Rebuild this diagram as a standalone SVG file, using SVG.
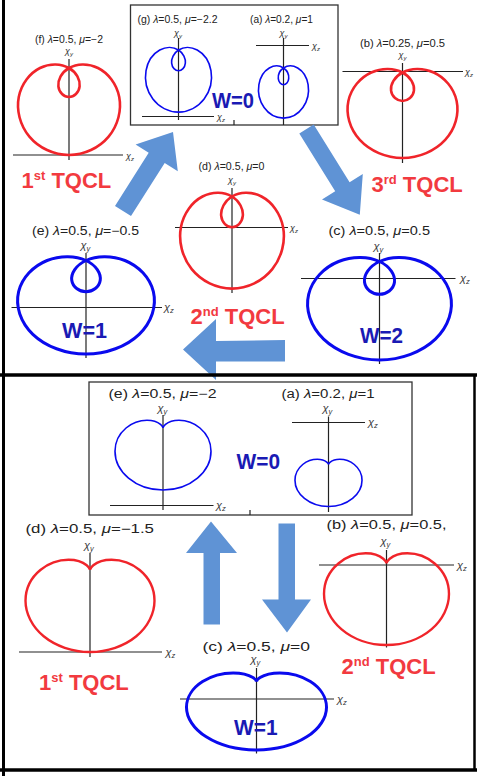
<svg xmlns="http://www.w3.org/2000/svg" width="477" height="776" viewBox="0 0 477 776">
<style>
text{font-family:"Liberation Sans",Arial,sans-serif;fill:#222}
.lab{font-size:10px}
.labm{font-size:12px}
.ax{stroke:#222;stroke-width:1.2;fill:none}
.r{fill:none;stroke:#f0242a;stroke-width:2.6}
.rb{fill:none;stroke:#f0242a;stroke-width:2.4}
.b{fill:none;stroke:#0a0aee;stroke-width:1.6}
.bt{fill:none;stroke:#0a0aee;stroke-width:3}
.chi{font-size:9px;fill:#333;font-style:italic}
.chim{font-size:11px;fill:#333;font-style:italic}
.big{font-size:22px;font-weight:bold;fill:#f23a3f}
.w{font-size:22px;font-weight:bold;fill:#1a1ab4}
.arr{fill:#5f93d5}
.box{fill:#fff;stroke:#333;stroke-width:1.3}
.g{font-style:italic}
</style>
<defs>
<path id="lim" vector-effect="non-scaling-stroke" d="M0,3 C0.5236,3 1.0403,2.7556 1.366,2.366 C1.6917,1.9764 1.8193,1.4534 1.732,1 C1.6447,0.5466 1.3491,0.1745 1,0 C0.6509,-0.1745 0.2618,-0.1511 0,0 C-0.2618,0.1511 -0.3894,0.419 -0.366,0.634 C-0.3426,0.849 -0.1745,1 0,1 C0.1745,1 0.3426,0.849 0.366,0.634 C0.3894,0.419 0.2618,0.1511 0,0 C-0.2618,-0.1511 -0.6509,-0.1745 -1,0 C-1.3491,0.1745 -1.6447,0.5466 -1.732,1 C-1.8193,1.4534 -1.6917,1.9764 -1.366,2.366 C-1.0403,2.7556 -0.5236,3 0,3 Z"/>
<path id="card" vector-effect="non-scaling-stroke" d="M0,2 C0.3491,2 0.6946,1.8544 0.933,1.616 C1.1714,1.3776 1.299,1.0523 1.299,0.75 C1.299,0.4477 1.1745,0.1745 1,0 C0.8255,-0.1745 0.6075,-0.25 0.433,-0.25 C0.2585,-0.25 0.1309,-0.1799 0.067,-0.116 C0.0031,-0.0521 0,0 0,0 C0,0 -0.0031,-0.0521 -0.067,-0.116 C-0.1309,-0.1799 -0.2585,-0.25 -0.433,-0.25 C-0.6075,-0.25 -0.8255,-0.1745 -1,0 C-1.1745,0.1745 -1.299,0.4477 -1.299,0.75 C-1.299,1.0523 -1.1714,1.3776 -0.933,1.616 C-0.6946,1.8544 -0.3491,2 0,2 Z"/>
</defs>

<g id="frame">
<line x1="3.5" y1="0" x2="3.5" y2="776" stroke="#000" stroke-width="3"/>
<line x1="0" y1="770" x2="477" y2="770" stroke="#000" stroke-width="3.5"/>
<line x1="474.5" y1="375" x2="474.5" y2="770" stroke="#000" stroke-width="2.5"/>
</g>

<!-- TOP PANEL -->
<g id="box-top">
<rect class="box" x="130.5" y="5" width="207.5" height="120"/>
<line class="ax" x1="234" y1="120" x2="234" y2="125"/>
</g>

<g id="g-top">
<text class="lab" x="137.5" y="22.5" textLength="80" lengthAdjust="spacingAndGlyphs">(g) <tspan class="g">λ</tspan>=0.5, <tspan class="g">μ</tspan>=−2.2</text>
<text class="chi" x="174" y="36">χ<tspan font-size="6" dy="2">y</tspan></text>
<line class="ax" x1="178.5" y1="38" x2="178.5" y2="120"/>
<line class="ax" x1="142" y1="116.5" x2="214" y2="116.5"/>
<text class="chi" x="217" y="120">χ<tspan font-size="6" dy="2">z</tspan></text>
<use href="#lim" class="b" transform="translate(178.5,50) scale(18.75,20.7)"/>
</g>

<g id="a-top">
<text class="lab" x="250" y="22.5" textLength="63" lengthAdjust="spacingAndGlyphs">(a) <tspan class="g">λ</tspan>=0.2, <tspan class="g">μ</tspan>=1</text>
<text class="chi" x="279.5" y="36">χ<tspan font-size="6" dy="2">y</tspan></text>
<line class="ax" x1="283.5" y1="38" x2="283.5" y2="125"/>
<line class="ax" x1="256" y1="45.5" x2="309" y2="45.5"/>
<text class="chi" x="312" y="49">χ<tspan font-size="6" dy="2">z</tspan></text>
<use href="#lim" class="b" transform="translate(283.5,68) scale(14.2,16.7)"/>
<text class="w" x="212" y="108" textLength="42" lengthAdjust="spacingAndGlyphs">W=0</text>
</g>

<g id="f-top">
<text class="lab" x="35" y="43" textLength="68" lengthAdjust="spacingAndGlyphs">(f) <tspan class="g">λ</tspan>=0.5, <tspan class="g">μ</tspan>=−2</text>
<text class="chi" x="65" y="54">χ<tspan font-size="6" dy="2">y</tspan></text>
<line class="ax" x1="69" y1="59" x2="69" y2="160"/>
<line class="ax" x1="13" y1="155" x2="123" y2="155"/>
<text class="chi" x="126" y="159">χ<tspan font-size="6" dy="2">z</tspan></text>
<use href="#lim" class="r" transform="translate(69,68) scale(29,29)"/>
<text class="big" x="21.5" y="188">1<tspan font-size="13" dy="-8">st</tspan><tspan dy="8"> TQCL</tspan></text>
</g>

<g id="b-top">
<text class="lab" x="360" y="46.5" textLength="85" lengthAdjust="spacingAndGlyphs">(b) <tspan class="g">λ</tspan>=0.25, <tspan class="g">μ</tspan>=0.5</text>
<text class="chi" x="398.5" y="58">χ<tspan font-size="6" dy="2">y</tspan></text>
<line class="ax" x1="402.5" y1="63" x2="402.5" y2="163"/>
<line class="ax" x1="342.5" y1="71.5" x2="463" y2="71.5"/>
<text class="chi" x="465" y="75">χ<tspan font-size="6" dy="2">z</tspan></text>
<use href="#lim" class="r" transform="translate(402.5,72.5) scale(31.25,28.5)"/>
<text class="big" x="371.5" y="191.5">3<tspan font-size="13" dy="-8">rd</tspan><tspan dy="8"> TQCL</tspan></text>
</g>

<g id="d-top">
<text class="lab" x="198.5" y="169.5" textLength="66" lengthAdjust="spacingAndGlyphs">(d) <tspan class="g">λ</tspan>=0.5, <tspan class="g">μ</tspan>=0</text>
<text class="chi" x="228" y="183">χ<tspan font-size="6" dy="2">y</tspan></text>
<line class="ax" x1="232" y1="188" x2="232" y2="293"/>
<line class="ax" x1="175" y1="227.5" x2="288" y2="227.5"/>
<text class="chi" x="290" y="231">χ<tspan font-size="6" dy="2">z</tspan></text>
<use href="#lim" class="r" transform="translate(232,196.5) scale(29.5,30.7)"/>
<text class="big" x="190.5" y="323.5">2<tspan font-size="13" dy="-8">nd</tspan><tspan dy="8"> TQCL</tspan></text>
</g>

<g id="e-top">
<text class="labm" x="32" y="234.5" textLength="107" lengthAdjust="spacingAndGlyphs">(e) <tspan class="g">λ</tspan>=0.5, <tspan class="g">μ</tspan>=−0.5</text>
<text class="chim" x="80.5" y="249">χ<tspan font-size="7.5" dy="2">y</tspan></text>
<line class="ax" x1="86" y1="253" x2="86" y2="358"/>
<line class="ax" x1="11.5" y1="307.5" x2="162" y2="307.5"/>
<text class="chim" x="164" y="311">χ<tspan font-size="7.5" dy="2">z</tspan></text>
<use href="#lim" class="bt" transform="translate(86,260.5) scale(38.9,31.2)"/>
<text class="w" x="62" y="338" textLength="45" lengthAdjust="spacingAndGlyphs">W=1</text>
</g>

<g id="c-top">
<text class="labm" x="328.5" y="234.5" textLength="101.5" lengthAdjust="spacingAndGlyphs">(c) <tspan class="g">λ</tspan>=0.5, <tspan class="g">μ</tspan>=0.5</text>
<text class="chim" x="373.5" y="250">χ<tspan font-size="7.5" dy="2">y</tspan></text>
<line class="ax" x1="379.5" y1="253" x2="379.5" y2="364"/>
<line class="ax" x1="301" y1="278.5" x2="455.5" y2="278.5"/>
<text class="chim" x="460" y="282">χ<tspan font-size="7.5" dy="2">z</tspan></text>
<use href="#lim" class="bt" transform="translate(379.5,261.5) scale(40.9,32.8)"/>
<text class="w" x="360" y="343" textLength="43" lengthAdjust="spacingAndGlyphs">W=2</text>
</g>

<!-- BOTTOM PANEL -->
<g id="box-bottom">
<rect class="box" x="89" y="382" width="323" height="133"/>
<line class="ax" x1="250" y1="510" x2="250" y2="515"/>
</g>

<g id="e-bottom">
<text class="labm" x="108.5" y="398" textLength="108" lengthAdjust="spacingAndGlyphs">(e) <tspan class="g">λ</tspan>=0.5,  <tspan class="g">μ</tspan>=−2</text>
<text class="chim" x="157.5" y="412">χ<tspan font-size="7.5" dy="2">y</tspan></text>
<line class="ax" x1="163" y1="415" x2="163" y2="510"/>
<line class="ax" x1="110" y1="505.5" x2="213.5" y2="505.5"/>
<text class="chim" x="216" y="509">χ<tspan font-size="7.5" dy="2">z</tspan></text>
<use href="#card" class="b" transform="translate(163,428) scale(36.95,31)"/>
</g>

<g id="a-bottom">
<text class="labm" x="281.5" y="398" textLength="93" lengthAdjust="spacingAndGlyphs">(a) <tspan class="g">λ</tspan>=0.2, <tspan class="g">μ</tspan>=1</text>
<text class="chim" x="322.5" y="412">χ<tspan font-size="7.5" dy="2">y</tspan></text>
<line class="ax" x1="328.5" y1="416.5" x2="328.5" y2="512"/>
<line class="ax" x1="292" y1="422.5" x2="365" y2="422.5"/>
<text class="chim" x="368" y="426">χ<tspan font-size="7.5" dy="2">z</tspan></text>
<use href="#card" class="b" transform="translate(328.5,464.5) scale(25.8,21)"/>
<text class="w" x="236.5" y="468.5" textLength="43.5" lengthAdjust="spacingAndGlyphs">W=0</text>
</g>

<g id="d-bottom">
<text class="labm" x="25.5" y="533" textLength="128.5" lengthAdjust="spacingAndGlyphs">(d) <tspan class="g">λ</tspan>=0.5,  <tspan class="g">μ</tspan>=−1.5</text>
<text class="chim" x="84" y="549">χ<tspan font-size="7.5" dy="2">y</tspan></text>
<line class="ax" x1="90" y1="553" x2="90" y2="657"/>
<line class="ax" x1="19" y1="652" x2="162" y2="652"/>
<text class="chim" x="165.5" y="656">χ<tspan font-size="7.5" dy="2">z</tspan></text>
<use href="#card" class="rb" transform="translate(90,570) scale(49.65,41)"/>
<text class="big" x="39" y="690">1<tspan font-size="13" dy="-8">st</tspan><tspan dy="8"> TQCL</tspan></text>
</g>

<g id="b-bottom">
<text class="labm" x="326.5" y="529" textLength="120" lengthAdjust="spacingAndGlyphs">(b) <tspan class="g">λ</tspan>=0.5,  <tspan class="g">μ</tspan>=0.5,</text>
<text class="chim" x="380.5" y="545">χ<tspan font-size="7.5" dy="2">y</tspan></text>
<line class="ax" x1="386.5" y1="550" x2="386.5" y2="647.5"/>
<line class="ax" x1="319" y1="565" x2="454" y2="565"/>
<text class="chim" x="457" y="569">χ<tspan font-size="7.5" dy="2">z</tspan></text>
<use href="#card" class="rb" transform="translate(386.5,563.5) scale(48.1,40.75)"/>
<text class="big" x="341.5" y="673.5">2<tspan font-size="13" dy="-8">nd</tspan><tspan dy="8"> TQCL</tspan></text>
</g>

<g id="c-bottom">
<text class="labm" x="202.5" y="651" textLength="107.5" lengthAdjust="spacingAndGlyphs">(c) <tspan class="g">λ</tspan>=0.5, <tspan class="g">μ</tspan>=0</text>
<text class="chim" x="250.5" y="663">χ<tspan font-size="7.5" dy="2">y</tspan></text>
<line class="ax" x1="256.5" y1="668" x2="256.5" y2="753.5"/>
<line class="ax" x1="180" y1="699" x2="334" y2="699"/>
<text class="chim" x="337" y="703">χ<tspan font-size="7.5" dy="2">z</tspan></text>
<use href="#card" class="bt" transform="translate(256.5,681.5) scale(53.9,34.25)"/>
<text class="w" x="234" y="735" textLength="43.5" lengthAdjust="spacingAndGlyphs">W=1</text>
</g>

<g id="connectors">
<polygon class="arr" points="115,206 148.7,152.7 135.6,144.4 173,132 177.8,171.2 164.7,162.9 131,216"/>
<polygon class="arr" points="313.7,124.5 349.6,182.2 362.8,174 359.8,214.8 322,199.4 335.2,191.2 299.3,133.5"/>
<polygon class="arr" points="183,349.5 216,319 216,341 285,340 285,361.5 216,361.5 216,380"/>
<polygon class="arr" points="211,521.5 237,553 220,553 220,624.5 203.5,624.5 203.5,553 186,553"/>
<polygon class="arr" points="278.5,523.5 295,523.5 295,599.5 311,599.5 287,632.5 262,599.5 278.5,599.5"/>
</g>
<line x1="0" y1="375" x2="477" y2="375" stroke="#000" stroke-width="3.5"/>
</svg>
